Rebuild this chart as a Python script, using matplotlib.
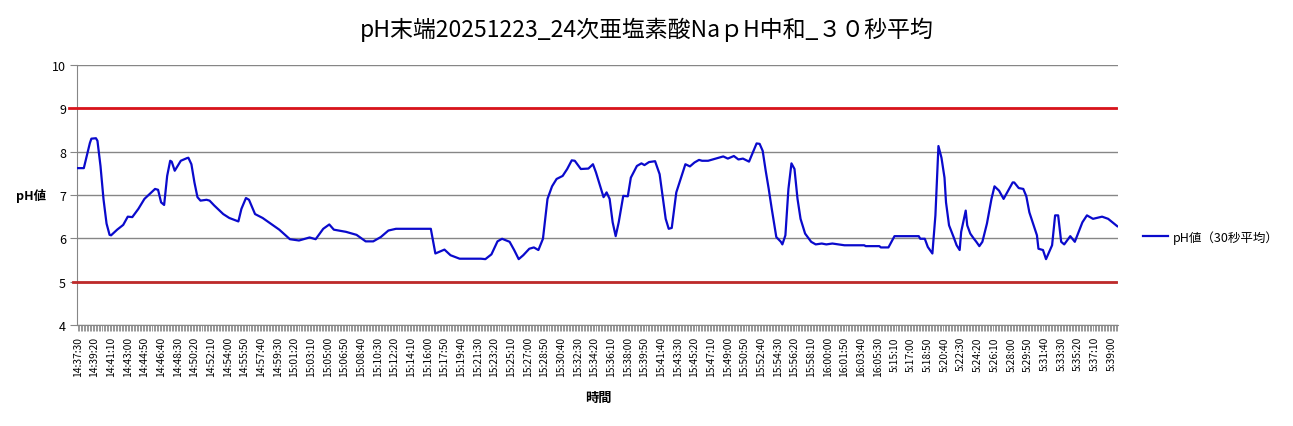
import matplotlib
matplotlib.use("Agg")
import matplotlib.pyplot as plt

plt.rcParams['font.family'] = ['Noto Sans CJK JP', 'DejaVu Sans']

title = "pH末端20251223_24次亜塩素酸NaｐH中和_３０秒平均"
n_samples = 687  # 10-second samples on a category axis

# tick labels, one every 11 samples
tick_labels = [
    "14:37:30", "14:39:20", "14:41:10", "14:43:00", "14:44:50", "14:46:40", "14:48:30",
    "14:50:20", "14:52:10", "14:54:00", "14:55:50", "14:57:40", "14:59:30", "15:01:20",
    "15:03:10", "15:05:00", "15:06:50", "15:08:40", "15:10:30", "15:12:20", "15:14:10",
    "15:16:00", "15:17:50", "15:19:40", "15:21:30", "15:23:20", "15:25:10", "15:27:00",
    "15:28:50", "15:30:40", "15:32:30", "15:34:20", "15:36:10", "15:38:00", "15:39:50",
    "15:41:40", "15:43:30", "15:45:20", "15:47:10", "15:49:00", "15:50:50", "15:52:40",
    "15:54:30", "15:56:20", "15:58:10", "16:00:00", "16:01:50", "16:03:40", "16:05:30",
    "5:15:10", "5:17:00", "5:18:50", "5:20:40", "5:22:30", "5:24:20", "5:26:10",
    "5:28:00", "5:29:50", "5:31:40", "5:33:30", "5:35:20", "5:37:10", "5:39:00",
]

# sample index and pH (30 s average)
sample_idx = [
    0, 4, 8, 9, 12, 13, 15, 17, 19, 21, 22, 26, 30, 33, 36, 40, 44, 51, 53, 55,
    57, 59, 61, 62, 64, 68, 72, 73, 75, 77, 79, 81, 85, 87, 90, 96, 100, 106, 108, 111,
    113, 117, 122, 129, 133, 140, 146, 153, 157, 162, 166, 169, 177, 184, 190, 195, 200, 205, 210, 233,
    236, 242, 246, 252, 266, 269, 273, 277, 280, 285, 288, 291, 294, 298, 301, 304, 307, 310, 313, 316,
    320, 323, 326, 328, 332, 337, 340, 342, 347, 349, 351, 353, 355, 357, 360, 363, 365, 369, 372, 374,
    377, 381, 384, 388, 390, 392, 395, 401, 404, 407, 410, 412, 416, 421, 426, 429, 433, 436, 439, 443,
    446, 448, 450, 452, 454, 456, 458, 461, 464, 465, 467, 469, 471, 473, 475, 477, 480, 484, 487, 491,
    494, 498, 506, 519, 520, 529, 530, 535, 539, 555, 556, 559, 561, 564, 566, 568, 570, 572, 573, 575,
    578, 580, 582, 583, 586, 587, 589, 591, 593, 595, 597, 600, 603, 605, 608, 611, 614, 617, 618, 621,
    624, 626, 628, 633, 634, 637, 639, 643, 645, 647, 649, 651, 655, 658, 663, 666, 670, 676, 680, 686,
]
ph_values = [
    7.62, 7.62, 8.20, 8.30, 8.31, 8.25, 7.67, 6.90, 6.34, 6.08, 6.07, 6.20, 6.31, 6.50, 6.49, 6.68, 6.91, 7.14, 7.12, 6.83,
    6.77, 7.44, 7.79, 7.77, 7.56, 7.79, 7.85, 7.86, 7.71, 7.29, 6.95, 6.87, 6.89, 6.87, 6.76, 6.56, 6.47, 6.39, 6.68, 6.93,
    6.89, 6.56, 6.47, 6.30, 6.20, 5.98, 5.95, 6.02, 5.98, 6.22, 6.32, 6.20, 6.15, 6.08, 5.93, 5.93, 6.03, 6.18, 6.22, 6.22,
    5.65, 5.74, 5.61, 5.53, 5.53, 5.52, 5.63, 5.93, 5.99, 5.92, 5.73, 5.52, 5.61, 5.76, 5.79, 5.73, 5.99, 6.91, 7.20, 7.37,
    7.44, 7.60, 7.80, 7.79, 7.60, 7.61, 7.71, 7.52, 6.95, 7.06, 6.91, 6.37, 6.05, 6.37, 6.98, 6.97, 7.40, 7.67, 7.73, 7.69,
    7.76, 7.78, 7.48, 6.45, 6.22, 6.24, 7.06, 7.71, 7.66, 7.75, 7.81, 7.79, 7.79, 7.84, 7.89, 7.84, 7.90, 7.82, 7.84, 7.77,
    8.02, 8.19, 8.18, 8.02, 7.56, 7.14, 6.68, 6.03, 5.92, 5.86, 6.07, 7.14, 7.73, 7.60, 6.91, 6.45, 6.11, 5.92, 5.86, 5.88,
    5.86, 5.88, 5.84, 5.84, 5.82, 5.82, 5.79, 5.79, 6.05, 6.05, 5.99, 5.99, 5.80, 5.65, 6.53, 8.13, 7.86, 7.40, 6.83, 6.30,
    6.03, 5.84, 5.73, 6.15, 6.64, 6.30, 6.11, 6.01, 5.92, 5.82, 5.92, 6.34, 6.91, 7.20, 7.10, 6.91, 7.10, 7.29, 7.29, 7.16,
    7.14, 6.97, 6.60, 6.07, 5.76, 5.73, 5.52, 5.84, 6.53, 6.53, 5.92, 5.86, 6.05, 5.92, 6.37, 6.53, 6.45, 6.50, 6.45, 6.28,
]

upper_limit = 9
lower_limit = 5

fig = plt.figure(figsize=(12.93, 4.27), dpi=100)
ax = fig.add_axes([77 / 1293, 1 - 326 / 427, 1041 / 1293, 260 / 427])

ax.set_ylim(4, 10)
ax.set_yticks(range(4, 11))
ax.set_xlim(-0.5, n_samples - 0.5)
ax.grid(axis='y', color='#868686', linewidth=1)
ax.set_axisbelow(True)

ax.axhline(upper_limit, xmin=-0.008, xmax=0.998, color='#D9141B', linewidth=2, clip_on=False, zorder=3)
ax.axhline(lower_limit, xmin=-0.004, xmax=0.998, color='#BE2A2A', linewidth=2, clip_on=False, zorder=3)

ax.plot(sample_idx, ph_values, color='#0A0ACC', linewidth=1.6, label='pH値（30秒平均）', zorder=4)

ax.set_xticks(range(0, len(tick_labels) * 11, 11))
ax.set_xticklabels(tick_labels, rotation=90, fontsize=7.4)
ax.set_xticks(range(n_samples), minor=True)
ax.tick_params(axis='x', which='both', length=4, color='#868686', width=0.6, pad=4)
ax.tick_params(axis='y', length=5, color='#868686', labelsize=9, pad=3)

for side in ['top', 'right']:
    ax.spines[side].set_visible(False)
for side in ['left', 'bottom']:
    ax.spines[side].set_color('#868686')

fig.text(31 / 1293, 1 - 196 / 427, 'pH値', fontsize=9, fontweight='bold', ha='center', va='center')
fig.text(598 / 1293, 1 - 398 / 427, '時間', fontsize=9.5, fontweight='bold', ha='center', va='center')
fig.text(0.5, 1 - 30 / 427, title, fontsize=16.5, ha='center', va='center')

fig.legend(loc='center left', bbox_to_anchor=(1132 / 1293, 1 - 238 / 427), frameon=False,
           fontsize=9, handlelength=2.0, handletextpad=0.4)

fig.savefig('out.png', dpi=100)
